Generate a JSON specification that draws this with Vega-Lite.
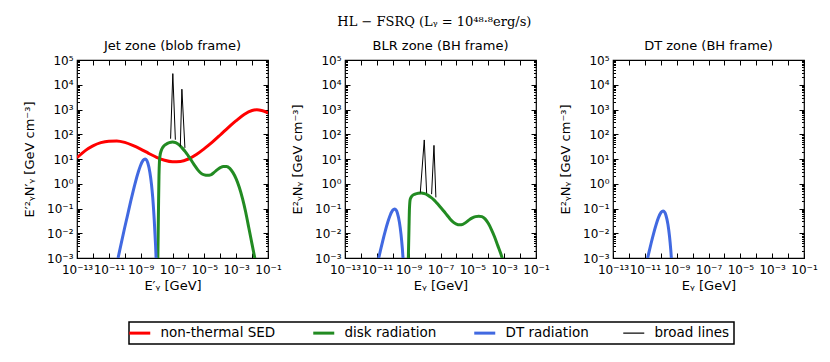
{
  "$schema": "https://vega.github.io/schema/vega-lite/v6.json",
  "padding": {"left": 22, "top": 16, "right": 5, "bottom": 5},
  "background": "white",
  "config": {
    "font": "DejaVu Sans",
    "view": {"stroke": "black", "strokeWidth": 1.2},
    "axis": {"grid": false, "domain": false, "tickColor": "black", "labelColor": "black", "titleColor": "black", "labelFont": "DejaVu Sans", "labelFontSize": 12, "titleFont": "DejaVu Sans", "titleFontSize": 13, "titleFontWeight": "normal", "tickWidth": 1, "labelFlush": false, "labelOverlap": false},
    "title": {"font": "DejaVu Sans", "fontSize": 13, "fontWeight": "normal", "color": "black"}
  },
  "title": {"text": "HL − FSRQ (Lᵧ = 10⁴⁸·⁸erg/s)", "font": "DejaVu Serif", "fontSize": 13, "anchor": "middle", "offset": 10, "dx": 14},
  "datasets": {
    "sed": [
      {"panel": "Jet", "series": "non-thermal SED", "E": 1e-13, "y": 11.22},
      {"panel": "Jet", "series": "non-thermal SED", "E": 3.162e-13, "y": 21.38},
      {"panel": "Jet", "series": "non-thermal SED", "E": 1e-12, "y": 33.88},
      {"panel": "Jet", "series": "non-thermal SED", "E": 3.162e-12, "y": 45.71},
      {"panel": "Jet", "series": "non-thermal SED", "E": 1e-11, "y": 52.48},
      {"panel": "Jet", "series": "non-thermal SED", "E": 3.162e-11, "y": 53.70},
      {"panel": "Jet", "series": "non-thermal SED", "E": 1e-10, "y": 46.77},
      {"panel": "Jet", "series": "non-thermal SED", "E": 3.162e-10, "y": 35.48},
      {"panel": "Jet", "series": "non-thermal SED", "E": 1e-9, "y": 25.12},
      {"panel": "Jet", "series": "non-thermal SED", "E": 3.162e-9, "y": 16.98},
      {"panel": "Jet", "series": "non-thermal SED", "E": 1e-8, "y": 11.75},
      {"panel": "Jet", "series": "non-thermal SED", "E": 3.162e-8, "y": 8.913},
      {"panel": "Jet", "series": "non-thermal SED", "E": 1e-7, "y": 7.762},
      {"panel": "Jet", "series": "non-thermal SED", "E": 3.162e-7, "y": 7.943},
      {"panel": "Jet", "series": "non-thermal SED", "E": 1e-6, "y": 10.0},
      {"panel": "Jet", "series": "non-thermal SED", "E": 3.162e-6, "y": 15.14},
      {"panel": "Jet", "series": "non-thermal SED", "E": 1e-5, "y": 26.30},
      {"panel": "Jet", "series": "non-thermal SED", "E": 3.162e-5, "y": 47.86},
      {"panel": "Jet", "series": "non-thermal SED", "E": 1e-4, "y": 93.33},
      {"panel": "Jet", "series": "non-thermal SED", "E": 3.162e-4, "y": 186.2},
      {"panel": "Jet", "series": "non-thermal SED", "E": 1e-3, "y": 354.8},
      {"panel": "Jet", "series": "non-thermal SED", "E": 3.162e-3, "y": 631.0},
      {"panel": "Jet", "series": "non-thermal SED", "E": 1e-2, "y": 912.0},
      {"panel": "Jet", "series": "non-thermal SED", "E": 1.995e-2, "y": 977.2},
      {"panel": "Jet", "series": "non-thermal SED", "E": 3.981e-2, "y": 912.0},
      {"panel": "Jet", "series": "non-thermal SED", "E": 0.1, "y": 724.4},

      {"panel": "Jet", "series": "disk radiation", "E": 1.202e-8, "y": 0.001},
      {"panel": "Jet", "series": "disk radiation", "E": 1.318e-8, "y": 0.1},
      {"panel": "Jet", "series": "disk radiation", "E": 1.413e-8, "y": 1.995},
      {"panel": "Jet", "series": "disk radiation", "E": 1.514e-8, "y": 7.943},
      {"panel": "Jet", "series": "disk radiation", "E": 1.660e-8, "y": 14.13},
      {"panel": "Jet", "series": "disk radiation", "E": 1.995e-8, "y": 22.39},
      {"panel": "Jet", "series": "disk radiation", "E": 2.512e-8, "y": 30.20},
      {"panel": "Jet", "series": "disk radiation", "E": 3.981e-8, "y": 39.81},
      {"panel": "Jet", "series": "disk radiation", "E": 6.310e-8, "y": 45.71},
      {"panel": "Jet", "series": "disk radiation", "E": 1e-7, "y": 48.98},
      {"panel": "Jet", "series": "disk radiation", "E": 1.585e-7, "y": 45.71},
      {"panel": "Jet", "series": "disk radiation", "E": 2.512e-7, "y": 38.02},
      {"panel": "Jet", "series": "disk radiation", "E": 3.981e-7, "y": 28.18},
      {"panel": "Jet", "series": "disk radiation", "E": 6.310e-7, "y": 19.95},
      {"panel": "Jet", "series": "disk radiation", "E": 1e-6, "y": 13.18},
      {"panel": "Jet", "series": "disk radiation", "E": 1.585e-6, "y": 8.511},
      {"panel": "Jet", "series": "disk radiation", "E": 2.512e-6, "y": 5.370},
      {"panel": "Jet", "series": "disk radiation", "E": 3.981e-6, "y": 3.548},
      {"panel": "Jet", "series": "disk radiation", "E": 6.310e-6, "y": 2.630},
      {"panel": "Jet", "series": "disk radiation", "E": 1e-5, "y": 2.291},
      {"panel": "Jet", "series": "disk radiation", "E": 1.585e-5, "y": 2.188},
      {"panel": "Jet", "series": "disk radiation", "E": 2.512e-5, "y": 2.291},
      {"panel": "Jet", "series": "disk radiation", "E": 3.981e-5, "y": 2.818},
      {"panel": "Jet", "series": "disk radiation", "E": 6.310e-5, "y": 3.631},
      {"panel": "Jet", "series": "disk radiation", "E": 1e-4, "y": 4.467},
      {"panel": "Jet", "series": "disk radiation", "E": 1.585e-4, "y": 5.012},
      {"panel": "Jet", "series": "disk radiation", "E": 2.512e-4, "y": 5.012},
      {"panel": "Jet", "series": "disk radiation", "E": 3.981e-4, "y": 4.169},
      {"panel": "Jet", "series": "disk radiation", "E": 6.310e-4, "y": 2.818},
      {"panel": "Jet", "series": "disk radiation", "E": 1e-3, "y": 1.585},
      {"panel": "Jet", "series": "disk radiation", "E": 1.585e-3, "y": 0.7079},
      {"panel": "Jet", "series": "disk radiation", "E": 2.512e-3, "y": 0.2512},
      {"panel": "Jet", "series": "disk radiation", "E": 3.981e-3, "y": 0.07079},
      {"panel": "Jet", "series": "disk radiation", "E": 6.310e-3, "y": 0.01585},
      {"panel": "Jet", "series": "disk radiation", "E": 1e-2, "y": 0.003548},
      {"panel": "Jet", "series": "disk radiation", "E": 1.585e-2, "y": 0.000794},

      {"panel": "Jet", "series": "DT radiation", "E": 3.802e-11, "y": 0.001},
      {"panel": "Jet", "series": "DT radiation", "E": 4.786e-11, "y": 0.001995},
      {"panel": "Jet", "series": "DT radiation", "E": 9.550e-11, "y": 0.01514},
      {"panel": "Jet", "series": "DT radiation", "E": 1.445e-10, "y": 0.04842},
      {"panel": "Jet", "series": "DT radiation", "E": 2.399e-10, "y": 0.2018},
      {"panel": "Jet", "series": "DT radiation", "E": 3.350e-10, "y": 0.4955},
      {"panel": "Jet", "series": "DT radiation", "E": 4.786e-10, "y": 1.219},
      {"panel": "Jet", "series": "DT radiation", "E": 7.178e-10, "y": 3.041},
      {"panel": "Jet", "series": "DT radiation", "E": 9.550e-10, "y": 5.248},
      {"panel": "Jet", "series": "DT radiation", "E": 1.429e-9, "y": 8.872},
      {"panel": "Jet", "series": "DT radiation", "E": 1.905e-9, "y": 10.0},
      {"panel": "Jet", "series": "DT radiation", "E": 2.399e-9, "y": 8.872},
      {"panel": "Jet", "series": "DT radiation", "E": 2.851e-9, "y": 6.745},
      {"panel": "Jet", "series": "DT radiation", "E": 3.802e-9, "y": 2.877},
      {"panel": "Jet", "series": "DT radiation", "E": 4.786e-9, "y": 0.9506},
      {"panel": "Jet", "series": "DT radiation", "E": 5.754e-9, "y": 0.2667},
      {"panel": "Jet", "series": "DT radiation", "E": 7.161e-9, "y": 0.03236},
      {"panel": "Jet", "series": "DT radiation", "E": 8.610e-9, "y": 0.00335},
      {"panel": "Jet", "series": "DT radiation", "E": 9.550e-9, "y": 0.000692},

      {"panel": "Jet", "series": "broad lines", "seg": "a", "E": 7.586e-8, "y": 66.07},
      {"panel": "Jet", "series": "broad lines", "seg": "a", "E": 1.047e-7, "y": 28184},
      {"panel": "Jet", "series": "broad lines", "seg": "a", "E": 1.514e-7, "y": 60.26},
      {"panel": "Jet", "series": "broad lines", "seg": "b", "E": 3.090e-7, "y": 32.36},
      {"panel": "Jet", "series": "broad lines", "seg": "b", "E": 3.890e-7, "y": 6607},
      {"panel": "Jet", "series": "broad lines", "seg": "b", "E": 6.026e-7, "y": 28.18},

      {"panel": "BLR", "series": "disk radiation", "E": 9.550e-10, "y": 0.001},
      {"panel": "BLR", "series": "disk radiation", "E": 1.047e-9, "y": 0.01585},
      {"panel": "BLR", "series": "disk radiation", "E": 1.122e-9, "y": 0.1},
      {"panel": "BLR", "series": "disk radiation", "E": 1.259e-9, "y": 0.2399},
      {"panel": "BLR", "series": "disk radiation", "E": 1.585e-9, "y": 0.3162},
      {"panel": "BLR", "series": "disk radiation", "E": 2.512e-9, "y": 0.3802},
      {"panel": "BLR", "series": "disk radiation", "E": 3.981e-9, "y": 0.4169},
      {"panel": "BLR", "series": "disk radiation", "E": 6.310e-9, "y": 0.4266},
      {"panel": "BLR", "series": "disk radiation", "E": 1e-8, "y": 0.3981},
      {"panel": "BLR", "series": "disk radiation", "E": 1.585e-8, "y": 0.3467},
      {"panel": "BLR", "series": "disk radiation", "E": 2.512e-8, "y": 0.2818},
      {"panel": "BLR", "series": "disk radiation", "E": 3.981e-8, "y": 0.2188},
      {"panel": "BLR", "series": "disk radiation", "E": 6.310e-8, "y": 0.1585},
      {"panel": "BLR", "series": "disk radiation", "E": 1e-7, "y": 0.1122},
      {"panel": "BLR", "series": "disk radiation", "E": 1.585e-7, "y": 0.07943},
      {"panel": "BLR", "series": "disk radiation", "E": 2.512e-7, "y": 0.05495},
      {"panel": "BLR", "series": "disk radiation", "E": 3.981e-7, "y": 0.03802},
      {"panel": "BLR", "series": "disk radiation", "E": 6.310e-7, "y": 0.02818},
      {"panel": "BLR", "series": "disk radiation", "E": 1e-6, "y": 0.02344},
      {"panel": "BLR", "series": "disk radiation", "E": 1.585e-6, "y": 0.02188},
      {"panel": "BLR", "series": "disk radiation", "E": 2.512e-6, "y": 0.02291},
      {"panel": "BLR", "series": "disk radiation", "E": 3.981e-6, "y": 0.02754},
      {"panel": "BLR", "series": "disk radiation", "E": 6.310e-6, "y": 0.03467},
      {"panel": "BLR", "series": "disk radiation", "E": 1e-5, "y": 0.04169},
      {"panel": "BLR", "series": "disk radiation", "E": 1.585e-5, "y": 0.04677},
      {"panel": "BLR", "series": "disk radiation", "E": 2.512e-5, "y": 0.04898},
      {"panel": "BLR", "series": "disk radiation", "E": 3.981e-5, "y": 0.04677},
      {"panel": "BLR", "series": "disk radiation", "E": 6.310e-5, "y": 0.03802},
      {"panel": "BLR", "series": "disk radiation", "E": 1e-4, "y": 0.02512},
      {"panel": "BLR", "series": "disk radiation", "E": 1.585e-4, "y": 0.01413},
      {"panel": "BLR", "series": "disk radiation", "E": 2.512e-4, "y": 0.007079},
      {"panel": "BLR", "series": "disk radiation", "E": 3.981e-4, "y": 0.003162},
      {"panel": "BLR", "series": "disk radiation", "E": 6.310e-4, "y": 0.001413},
      {"panel": "BLR", "series": "disk radiation", "E": 7.943e-4, "y": 0.000891},

      {"panel": "BLR", "series": "DT radiation", "E": 1e-11, "y": 0.000462},
      {"panel": "BLR", "series": "DT radiation", "E": 1.660e-11, "y": 0.001928},
      {"panel": "BLR", "series": "DT radiation", "E": 2.317e-11, "y": 0.004732},
      {"panel": "BLR", "series": "DT radiation", "E": 3.311e-11, "y": 0.01164},
      {"panel": "BLR", "series": "DT radiation", "E": 4.966e-11, "y": 0.02904},
      {"panel": "BLR", "series": "DT radiation", "E": 6.607e-11, "y": 0.05012},
      {"panel": "BLR", "series": "DT radiation", "E": 9.886e-11, "y": 0.08472},
      {"panel": "BLR", "series": "DT radiation", "E": 1.318e-10, "y": 0.09550},
      {"panel": "BLR", "series": "DT radiation", "E": 1.660e-10, "y": 0.08472},
      {"panel": "BLR", "series": "DT radiation", "E": 1.972e-10, "y": 0.06442},
      {"panel": "BLR", "series": "DT radiation", "E": 2.630e-10, "y": 0.02748},
      {"panel": "BLR", "series": "DT radiation", "E": 3.311e-10, "y": 0.009078},
      {"panel": "BLR", "series": "DT radiation", "E": 3.981e-10, "y": 0.002547},
      {"panel": "BLR", "series": "DT radiation", "E": 4.955e-10, "y": 0.000309},

      {"panel": "BLR", "series": "broad lines", "seg": "a", "E": 5.370e-9, "y": 0.4365},
      {"panel": "BLR", "series": "broad lines", "seg": "a", "E": 9.550e-9, "y": 58.88},
      {"panel": "BLR", "series": "broad lines", "seg": "a", "E": 1.349e-8, "y": 0.4169},
      {"panel": "BLR", "series": "broad lines", "seg": "b", "E": 2.754e-8, "y": 0.3802},
      {"panel": "BLR", "series": "broad lines", "seg": "b", "E": 3.890e-8, "y": 35.48},
      {"panel": "BLR", "series": "broad lines", "seg": "b", "E": 5.129e-8, "y": 0.2818},

      {"panel": "DT", "series": "DT radiation", "E": 1.072e-11, "y": 0.000385},
      {"panel": "DT", "series": "DT radiation", "E": 1.778e-11, "y": 0.001603},
      {"panel": "DT", "series": "DT radiation", "E": 2.483e-11, "y": 0.003936},
      {"panel": "DT", "series": "DT radiation", "E": 3.548e-11, "y": 0.009683},
      {"panel": "DT", "series": "DT radiation", "E": 5.321e-11, "y": 0.02415},
      {"panel": "DT", "series": "DT radiation", "E": 7.079e-11, "y": 0.04169},
      {"panel": "DT", "series": "DT radiation", "E": 1.059e-10, "y": 0.07047},
      {"panel": "DT", "series": "DT radiation", "E": 1.413e-10, "y": 0.07943},
      {"panel": "DT", "series": "DT radiation", "E": 1.778e-10, "y": 0.07047},
      {"panel": "DT", "series": "DT radiation", "E": 2.113e-10, "y": 0.05358},
      {"panel": "DT", "series": "DT radiation", "E": 2.818e-10, "y": 0.02286},
      {"panel": "DT", "series": "DT radiation", "E": 3.548e-10, "y": 0.007551},
      {"panel": "DT", "series": "DT radiation", "E": 4.266e-10, "y": 0.002118},
      {"panel": "DT", "series": "DT radiation", "E": 5.309e-10, "y": 0.000257}
    ]
  },
  "spacing": 77,
  "bounds": "flush",
  "hconcat": [
    {
      "width": 191, "height": 198,
      "title": {"text": "Jet zone (blob frame)", "offset": 1},
      "data": {"name": "sed"},
      "transform": [{"filter": "datum.panel === 'Jet'"}],
      "resolve": {"axis": {"x": "independent", "y": "independent"}},
      "layer": [
        {
          "transform": [{"filter": "datum.series !== 'broad lines'"}],
          "mark": {"type": "line", "clip": true, "strokeWidth": 3, "interpolate": "monotone"},
          "encoding": {
            "x": {"field": "E", "type": "quantitative", "scale": {"type": "log", "domain": [1e-13, 0.1], "nice": false},
              "axis": {"orient": "bottom", "values": [1e-13,1e-12,1e-11,1e-10,1e-9,1e-8,1e-7,1e-6,1e-5,1e-4,1e-3,1e-2,1e-1], "tickSize": -5, "labelPadding": 11, "title": "E′ᵧ [GeV]", "titlePadding": 4,
                "labelExpr": "abs(round(log(datum.value)/LN10)) % 2 == 1 ? '10' + ['⁻¹³','⁻¹²','⁻¹¹','⁻¹⁰','⁻⁹','⁻⁸','⁻⁷','⁻⁶','⁻⁵','⁻⁴','⁻³','⁻²','⁻¹','⁰','¹','²','³','⁴','⁵'][round(log(datum.value)/LN10)+13] : ''"}},
            "y": {"field": "y", "type": "quantitative", "scale": {"type": "log", "domain": [0.001, 100000], "nice": false},
              "axis": {"orient": "left", "values": [1e-3,1e-2,1e-1,1,10,100,1000,10000,100000], "tickSize": -5, "labelPadding": 9, "title": "E′²ᵧN′ᵧ  [GeV cm⁻³]", "titlePadding": 10,
                "labelExpr": "'10' + ['⁻¹³','⁻¹²','⁻¹¹','⁻¹⁰','⁻⁹','⁻⁸','⁻⁷','⁻⁶','⁻⁵','⁻⁴','⁻³','⁻²','⁻¹','⁰','¹','²','³','⁴','⁵'][round(log(datum.value)/LN10)+13]"}},
            "color": {"field": "series", "type": "nominal",
              "scale": {"domain": ["non-thermal SED", "disk radiation", "DT radiation", "broad lines"], "range": ["#ff0000", "#228b22", "#4169e1", "#000000"]},
              "legend": {"orient": "none", "legendX": 52, "legendY": 262, "direction": "horizontal", "columns": 4, "title": null, "symbolType": "stroke", "symbolSize": 441, "symbolStrokeWidth": 3, "labelFontSize": 13.5, "labelFont": "DejaVu Sans", "labelColor": "black", "labelOffset": 14, "columnPadding": 31, "padding": 4, "strokeColor": "black", "fillColor": "white",
                "encode": {"symbols": {"update": {"strokeWidth": {"signal": "datum.value === 'broad lines' ? 1.2 : 3"}}}, "legend": {"update": {"strokeWidth": {"value": 1.5}}}}}},
            "detail": {"field": "series"}
          }
        },
        {
          "transform": [{"filter": "datum.series === 'broad lines'"}],
          "mark": {"type": "line", "clip": true, "strokeWidth": 1, "color": "black"},
          "encoding": {
            "x": {"field": "E", "type": "quantitative", "scale": {"type": "log", "domain": [1e-13, 0.1], "nice": false}, "axis": null},
            "y": {"field": "y", "type": "quantitative", "scale": {"type": "log", "domain": [0.001, 100000], "nice": false}, "axis": null},
            "detail": {"field": "seg"}
          }
        },
        {
          "mark": {"type": "point", "opacity": 0},
          "encoding": {
            "x": {"field": "E", "type": "quantitative", "scale": {"type": "log", "domain": [1e-13, 0.1], "nice": false},
              "axis": {"orient": "top", "values": [1e-13,1e-12,1e-11,1e-10,1e-9,1e-8,1e-7,1e-6,1e-5,1e-4,1e-3,1e-2,1e-1], "tickSize": -5, "labels": false, "title": null}},
            "y": {"field": "y", "type": "quantitative", "scale": {"type": "log", "domain": [0.001, 100000], "nice": false},
              "axis": {"orient": "right", "values": [1e-3,1e-2,1e-1,1,10,100,1000,10000,100000], "tickSize": -5, "labels": false, "title": null}}
          }
        },
        {
          "mark": {"type": "point", "opacity": 0},
          "encoding": {
            "x": {"field": "E", "type": "quantitative", "scale": {"type": "log", "domain": [1e-13, 0.1], "nice": false}, "axis": null},
            "y": {"field": "y", "type": "quantitative", "scale": {"type": "log", "domain": [0.001, 100000], "nice": false},
              "axis": {"orient": "left", "values": [0.002,0.003,0.004,0.005,0.006,0.007,0.008,0.009,0.02,0.03,0.04,0.05,0.06,0.07,0.08,0.09,0.2,0.3,0.4,0.5,0.6,0.7,0.8,0.9,2,3,4,5,6,7,8,9,20,30,40,50,60,70,80,90,200,300,400,500,600,700,800,900,2000,3000,4000,5000,6000,7000,8000,9000,20000,30000,40000,50000,60000,70000,80000,90000], "tickSize": -2.5, "labels": false, "title": null}}
          }
        },
        {
          "mark": {"type": "point", "opacity": 0},
          "encoding": {
            "x": {"field": "E", "type": "quantitative", "scale": {"type": "log", "domain": [1e-13, 0.1], "nice": false}, "axis": null},
            "y": {"field": "y", "type": "quantitative", "scale": {"type": "log", "domain": [0.001, 100000], "nice": false},
              "axis": {"orient": "right", "values": [0.002,0.003,0.004,0.005,0.006,0.007,0.008,0.009,0.02,0.03,0.04,0.05,0.06,0.07,0.08,0.09,0.2,0.3,0.4,0.5,0.6,0.7,0.8,0.9,2,3,4,5,6,7,8,9,20,30,40,50,60,70,80,90,200,300,400,500,600,700,800,900,2000,3000,4000,5000,6000,7000,8000,9000,20000,30000,40000,50000,60000,70000,80000,90000], "tickSize": -2.5, "labels": false, "title": null}}
          }
        }
      ]
    },
    {
      "width": 191, "height": 198,
      "title": {"text": "BLR zone (BH frame)", "offset": 1},
      "data": {"name": "sed"},
      "transform": [{"filter": "datum.panel === 'BLR'"}],
      "resolve": {"axis": {"x": "independent", "y": "independent"}},
      "layer": [
        {
          "transform": [{"filter": "datum.series !== 'broad lines'"}],
          "mark": {"type": "line", "clip": true, "strokeWidth": 3, "interpolate": "monotone"},
          "encoding": {
            "x": {"field": "E", "type": "quantitative", "scale": {"type": "log", "domain": [1e-13, 0.1], "nice": false},
              "axis": {"orient": "bottom", "values": [1e-13,1e-12,1e-11,1e-10,1e-9,1e-8,1e-7,1e-6,1e-5,1e-4,1e-3,1e-2,1e-1], "tickSize": -5, "labelPadding": 11, "title": "Eᵧ [GeV]", "titlePadding": 4,
                "labelExpr": "abs(round(log(datum.value)/LN10)) % 2 == 1 ? '10' + ['⁻¹³','⁻¹²','⁻¹¹','⁻¹⁰','⁻⁹','⁻⁸','⁻⁷','⁻⁶','⁻⁵','⁻⁴','⁻³','⁻²','⁻¹','⁰','¹','²','³','⁴','⁵'][round(log(datum.value)/LN10)+13] : ''"}},
            "y": {"field": "y", "type": "quantitative", "scale": {"type": "log", "domain": [0.001, 100000], "nice": false},
              "axis": {"orient": "left", "values": [1e-3,1e-2,1e-1,1,10,100,1000,10000,100000], "tickSize": -5, "labelPadding": 9, "title": "E²ᵧNᵧ  [GeV cm⁻³]", "titlePadding": 10,
                "labelExpr": "'10' + ['⁻¹³','⁻¹²','⁻¹¹','⁻¹⁰','⁻⁹','⁻⁸','⁻⁷','⁻⁶','⁻⁵','⁻⁴','⁻³','⁻²','⁻¹','⁰','¹','²','³','⁴','⁵'][round(log(datum.value)/LN10)+13]"}},
            "color": {"field": "series", "type": "nominal",
              "scale": {"domain": ["non-thermal SED", "disk radiation", "DT radiation", "broad lines"], "range": ["#ff0000", "#228b22", "#4169e1", "#000000"]},
              "legend": {"orient": "none", "legendX": 52, "legendY": 262, "direction": "horizontal", "columns": 4, "title": null, "symbolType": "stroke", "symbolSize": 441, "symbolStrokeWidth": 3, "labelFontSize": 13.5, "labelFont": "DejaVu Sans", "labelColor": "black", "labelOffset": 14, "columnPadding": 31, "padding": 4, "strokeColor": "black", "fillColor": "white",
                "encode": {"symbols": {"update": {"strokeWidth": {"signal": "datum.value === 'broad lines' ? 1.2 : 3"}}}, "legend": {"update": {"strokeWidth": {"value": 1.5}}}}}},
            "detail": {"field": "series"}
          }
        },
        {
          "transform": [{"filter": "datum.series === 'broad lines'"}],
          "mark": {"type": "line", "clip": true, "strokeWidth": 1, "color": "black"},
          "encoding": {
            "x": {"field": "E", "type": "quantitative", "scale": {"type": "log", "domain": [1e-13, 0.1], "nice": false}, "axis": null},
            "y": {"field": "y", "type": "quantitative", "scale": {"type": "log", "domain": [0.001, 100000], "nice": false}, "axis": null},
            "detail": {"field": "seg"}
          }
        },
        {
          "mark": {"type": "point", "opacity": 0},
          "encoding": {
            "x": {"field": "E", "type": "quantitative", "scale": {"type": "log", "domain": [1e-13, 0.1], "nice": false},
              "axis": {"orient": "top", "values": [1e-13,1e-12,1e-11,1e-10,1e-9,1e-8,1e-7,1e-6,1e-5,1e-4,1e-3,1e-2,1e-1], "tickSize": -5, "labels": false, "title": null}},
            "y": {"field": "y", "type": "quantitative", "scale": {"type": "log", "domain": [0.001, 100000], "nice": false},
              "axis": {"orient": "right", "values": [1e-3,1e-2,1e-1,1,10,100,1000,10000,100000], "tickSize": -5, "labels": false, "title": null}}
          }
        },
        {
          "mark": {"type": "point", "opacity": 0},
          "encoding": {
            "x": {"field": "E", "type": "quantitative", "scale": {"type": "log", "domain": [1e-13, 0.1], "nice": false}, "axis": null},
            "y": {"field": "y", "type": "quantitative", "scale": {"type": "log", "domain": [0.001, 100000], "nice": false},
              "axis": {"orient": "left", "values": [0.002,0.003,0.004,0.005,0.006,0.007,0.008,0.009,0.02,0.03,0.04,0.05,0.06,0.07,0.08,0.09,0.2,0.3,0.4,0.5,0.6,0.7,0.8,0.9,2,3,4,5,6,7,8,9,20,30,40,50,60,70,80,90,200,300,400,500,600,700,800,900,2000,3000,4000,5000,6000,7000,8000,9000,20000,30000,40000,50000,60000,70000,80000,90000], "tickSize": -2.5, "labels": false, "title": null}}
          }
        },
        {
          "mark": {"type": "point", "opacity": 0},
          "encoding": {
            "x": {"field": "E", "type": "quantitative", "scale": {"type": "log", "domain": [1e-13, 0.1], "nice": false}, "axis": null},
            "y": {"field": "y", "type": "quantitative", "scale": {"type": "log", "domain": [0.001, 100000], "nice": false},
              "axis": {"orient": "right", "values": [0.002,0.003,0.004,0.005,0.006,0.007,0.008,0.009,0.02,0.03,0.04,0.05,0.06,0.07,0.08,0.09,0.2,0.3,0.4,0.5,0.6,0.7,0.8,0.9,2,3,4,5,6,7,8,9,20,30,40,50,60,70,80,90,200,300,400,500,600,700,800,900,2000,3000,4000,5000,6000,7000,8000,9000,20000,30000,40000,50000,60000,70000,80000,90000], "tickSize": -2.5, "labels": false, "title": null}}
          }
        }
      ]
    },
    {
      "width": 191, "height": 198,
      "title": {"text": "DT zone (BH frame)", "offset": 1},
      "data": {"name": "sed"},
      "transform": [{"filter": "datum.panel === 'DT'"}],
      "resolve": {"axis": {"x": "independent", "y": "independent"}},
      "layer": [
        {
          "mark": {"type": "line", "clip": true, "strokeWidth": 3, "interpolate": "monotone"},
          "encoding": {
            "x": {"field": "E", "type": "quantitative", "scale": {"type": "log", "domain": [1e-13, 0.1], "nice": false},
              "axis": {"orient": "bottom", "values": [1e-13,1e-12,1e-11,1e-10,1e-9,1e-8,1e-7,1e-6,1e-5,1e-4,1e-3,1e-2,1e-1], "tickSize": -5, "labelPadding": 11, "title": "Eᵧ [GeV]", "titlePadding": 4,
                "labelExpr": "abs(round(log(datum.value)/LN10)) % 2 == 1 ? '10' + ['⁻¹³','⁻¹²','⁻¹¹','⁻¹⁰','⁻⁹','⁻⁸','⁻⁷','⁻⁶','⁻⁵','⁻⁴','⁻³','⁻²','⁻¹','⁰','¹','²','³','⁴','⁵'][round(log(datum.value)/LN10)+13] : ''"}},
            "y": {"field": "y", "type": "quantitative", "scale": {"type": "log", "domain": [0.001, 100000], "nice": false},
              "axis": {"orient": "left", "values": [1e-3,1e-2,1e-1,1,10,100,1000,10000,100000], "tickSize": -5, "labelPadding": 9, "title": "E²ᵧNᵧ  [GeV cm⁻³]", "titlePadding": 10,
                "labelExpr": "'10' + ['⁻¹³','⁻¹²','⁻¹¹','⁻¹⁰','⁻⁹','⁻⁸','⁻⁷','⁻⁶','⁻⁵','⁻⁴','⁻³','⁻²','⁻¹','⁰','¹','²','³','⁴','⁵'][round(log(datum.value)/LN10)+13]"}},
            "color": {"field": "series", "type": "nominal",
              "scale": {"domain": ["non-thermal SED", "disk radiation", "DT radiation", "broad lines"], "range": ["#ff0000", "#228b22", "#4169e1", "#000000"]},
              "legend": {"orient": "none", "legendX": 52, "legendY": 262, "direction": "horizontal", "columns": 4, "title": null, "symbolType": "stroke", "symbolSize": 441, "symbolStrokeWidth": 3, "labelFontSize": 13.5, "labelFont": "DejaVu Sans", "labelColor": "black", "labelOffset": 14, "columnPadding": 31, "padding": 4, "strokeColor": "black", "fillColor": "white",
                "encode": {"symbols": {"update": {"strokeWidth": {"signal": "datum.value === 'broad lines' ? 1.2 : 3"}}}, "legend": {"update": {"strokeWidth": {"value": 1.5}}}}}},
            "detail": {"field": "series"}
          }
        },
        {
          "mark": {"type": "point", "opacity": 0},
          "encoding": {
            "x": {"field": "E", "type": "quantitative", "scale": {"type": "log", "domain": [1e-13, 0.1], "nice": false},
              "axis": {"orient": "top", "values": [1e-13,1e-12,1e-11,1e-10,1e-9,1e-8,1e-7,1e-6,1e-5,1e-4,1e-3,1e-2,1e-1], "tickSize": -5, "labels": false, "title": null}},
            "y": {"field": "y", "type": "quantitative", "scale": {"type": "log", "domain": [0.001, 100000], "nice": false},
              "axis": {"orient": "right", "values": [1e-3,1e-2,1e-1,1,10,100,1000,10000,100000], "tickSize": -5, "labels": false, "title": null}}
          }
        },
        {
          "mark": {"type": "point", "opacity": 0},
          "encoding": {
            "x": {"field": "E", "type": "quantitative", "scale": {"type": "log", "domain": [1e-13, 0.1], "nice": false}, "axis": null},
            "y": {"field": "y", "type": "quantitative", "scale": {"type": "log", "domain": [0.001, 100000], "nice": false},
              "axis": {"orient": "left", "values": [0.002,0.003,0.004,0.005,0.006,0.007,0.008,0.009,0.02,0.03,0.04,0.05,0.06,0.07,0.08,0.09,0.2,0.3,0.4,0.5,0.6,0.7,0.8,0.9,2,3,4,5,6,7,8,9,20,30,40,50,60,70,80,90,200,300,400,500,600,700,800,900,2000,3000,4000,5000,6000,7000,8000,9000,20000,30000,40000,50000,60000,70000,80000,90000], "tickSize": -2.5, "labels": false, "title": null}}
          }
        },
        {
          "mark": {"type": "point", "opacity": 0},
          "encoding": {
            "x": {"field": "E", "type": "quantitative", "scale": {"type": "log", "domain": [1e-13, 0.1], "nice": false}, "axis": null},
            "y": {"field": "y", "type": "quantitative", "scale": {"type": "log", "domain": [0.001, 100000], "nice": false},
              "axis": {"orient": "right", "values": [0.002,0.003,0.004,0.005,0.006,0.007,0.008,0.009,0.02,0.03,0.04,0.05,0.06,0.07,0.08,0.09,0.2,0.3,0.4,0.5,0.6,0.7,0.8,0.9,2,3,4,5,6,7,8,9,20,30,40,50,60,70,80,90,200,300,400,500,600,700,800,900,2000,3000,4000,5000,6000,7000,8000,9000,20000,30000,40000,50000,60000,70000,80000,90000], "tickSize": -2.5, "labels": false, "title": null}}
          }
        }
      ]
    }
  ]
}
